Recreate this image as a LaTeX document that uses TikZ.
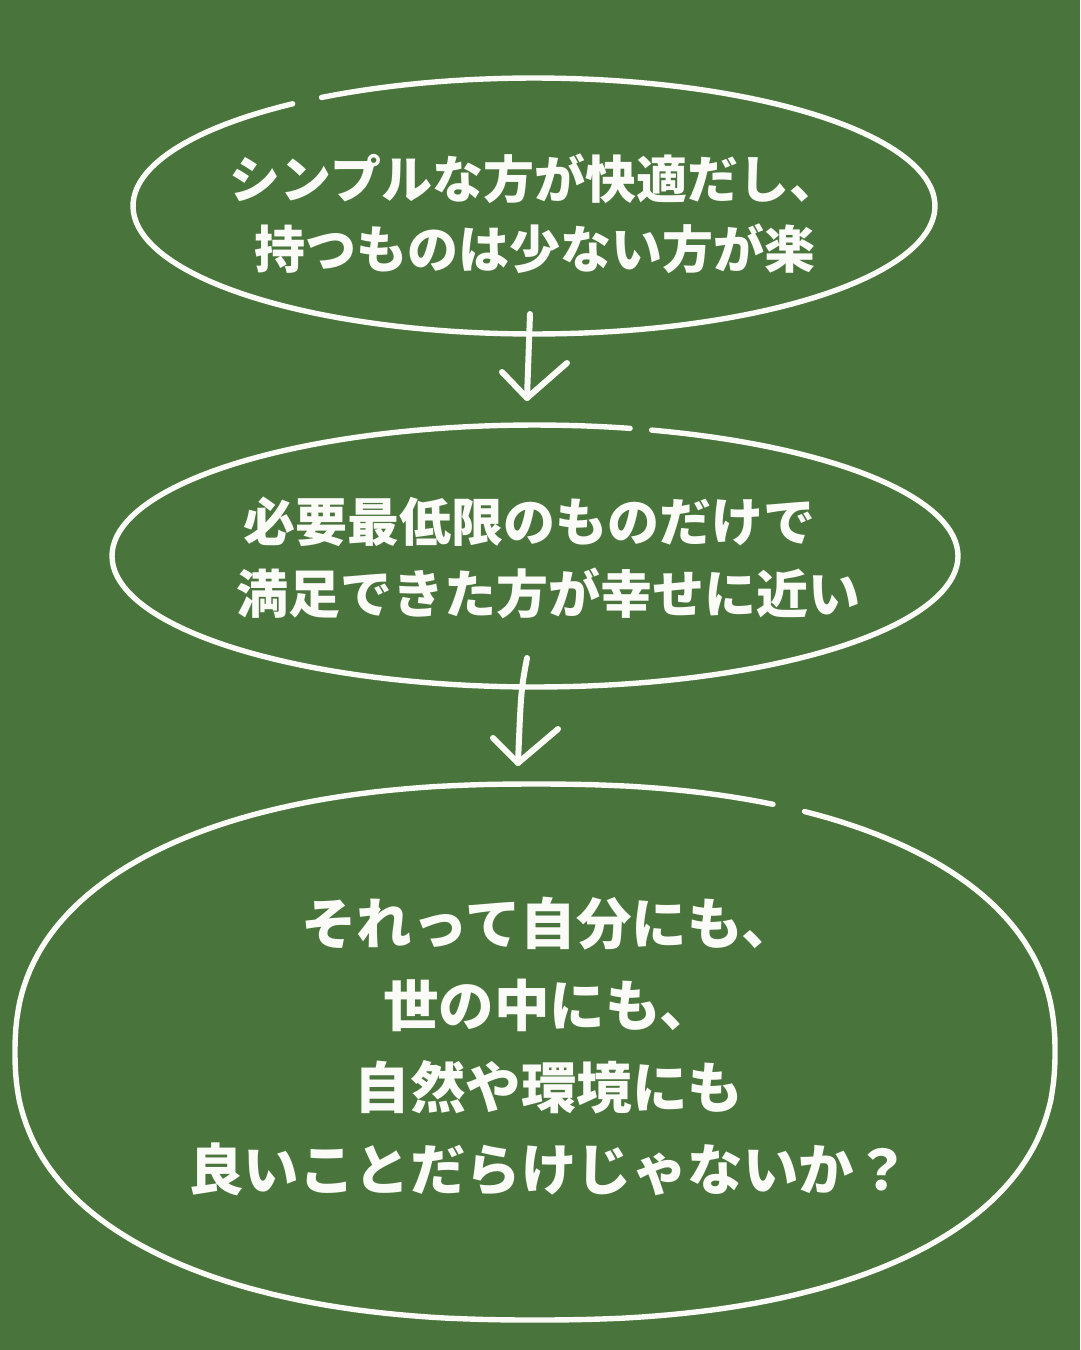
\documentclass[tikz,border=0pt]{standalone}
\usepackage{fontspec}
\newfontfamily\cjk{Noto Sans CJK JP}
\definecolor{board}{RGB}{73,117,60}
\definecolor{chalkc}{RGB}{250,250,246}
\tikzset{
  chalk/.style={draw=chalkc, line width=5.4pt, line cap=round, line join=round},
  txt/.style={text=chalkc, align=center, inner sep=0pt},
}
\begin{document}
\begin{tikzpicture}[x=1pt,y=-1pt]
\fill[board] (0,0) rectangle (1080,1350);
\useasboundingbox (0,0) rectangle (1080,1350);

% ellipses (hand-drawn look, with a gap)
\draw[chalk] plot[domain=238:593, samples=160] ({534+401*cos(\x)},{206+128*sin(\x)});
\draw[chalk] plot[domain=286:643, samples=160] ({535+423*cos(\x)},{556+131*sin(\x)});
\draw[chalk] plot[domain=298.03:654.03, samples=220]
  ({535+520*sign(cos(\x))*(abs(cos(\x))+0.00001)^0.87},{1052+268*sign(sin(\x))*(abs(sin(\x))+0.00001)^0.87});

% texts
\node[txt, font=\cjk\bfseries\fontsize{51}{70}\selectfont] (t1) at (535,214)
  {シンプルな方が快適だし、\\持つものは少ない方が楽};
\node[txt, align=left, font=\cjk\bfseries\fontsize{52}{72}\selectfont] (t2) at (548,558)
  {\hspace*{7pt}必要最低限のものだけで\\満足できた方が幸せに近い};
\node[txt, font=\cjk\bfseries\fontsize{55.5}{82}\selectfont] (t3) at (549,1046)
  {それって自分にも、\\世の中にも、\\自然や環境にも\\良いことだらけじゃないか？};

% arrows
\coordinate (a1s) at (530,314);
\coordinate (a1e) at (527,398);
\coordinate (a1l) at (502,372);
\coordinate (a1r) at (567,363);
\draw[chalk, line width=6pt] (a1s) -- (a1e);
\draw[chalk, line width=6pt] (a1l) -- (a1e) -- (a1r);

\coordinate (a2s) at (527,658);
\coordinate (a2e) at (518,763);
\coordinate (a2l) at (493,738);
\coordinate (a2r) at (558,729);
\draw[chalk, line width=6pt] (a2s) .. controls (521,690) .. (a2e);
\draw[chalk, line width=6pt] (a2l) -- (a2e) -- (a2r);
\end{tikzpicture}
\end{document}
